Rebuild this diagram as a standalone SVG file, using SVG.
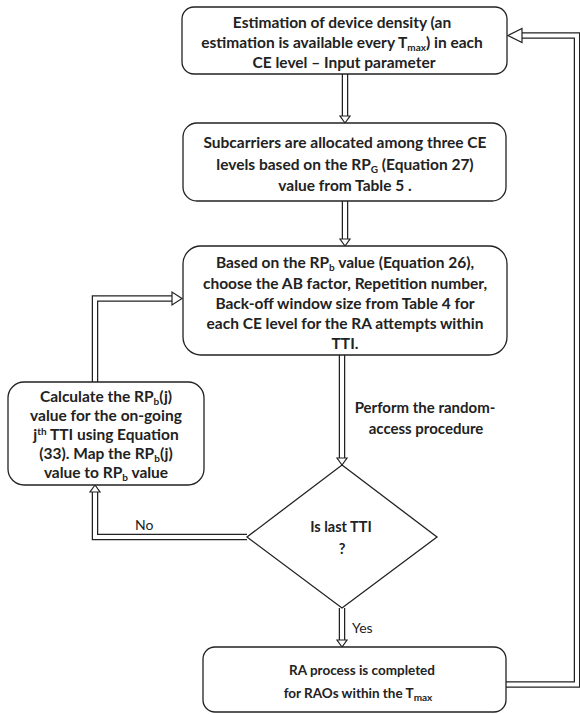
<svg xmlns="http://www.w3.org/2000/svg" width="580" height="714" viewBox="0 0 580 714">
<style>
.box{fill:#fff;stroke:#222;stroke-width:1.3}
.t{font-family:Lato,"Open Sans","DejaVu Sans",sans-serif;font-weight:bold;font-size:15.5px;fill:#222;text-anchor:middle}
.s{font-size:13.5px}
.m{font-size:14.5px}
.l{font-family:Lato,"Open Sans","DejaVu Sans",sans-serif;font-size:14px;fill:#222}
.outer{fill:none;stroke:#222;stroke-width:6.5}
.inner{fill:none;stroke:#fff;stroke-width:4}
.head{fill:#fff;stroke:#222;stroke-width:1.2;stroke-linejoin:miter}
.sub{font-size:10px}
</style>
<g id="connectors">
  <path class="outer" d="M506,684.5 H577 V35.5 H520"/>
  <path class="inner" d="M506,684.5 H577 V35.5 H519"/>
  <polygon class="head" points="508,35.5 522,28.5 522,42.5"/>
  <path class="outer" d="M345,74 V116"/>
  <path class="inner" d="M345,73 V117"/>
  <polygon class="head" points="345,123 340,116 350,116"/>
  <path class="outer" d="M345,201 V239"/>
  <path class="inner" d="M345,200 V240"/>
  <polygon class="head" points="345,246 340,239 350,239"/>
  <path class="outer" d="M342,355 V458"/>
  <path class="inner" d="M342,354 V459"/>
  <polygon class="head" points="342,465 337,458 347,458"/>
  <path class="outer" d="M342,608 V640"/>
  <path class="inner" d="M342,607 V641"/>
  <polygon class="head" points="342,647 337,640 347,640"/>
  <path class="outer" d="M247,537 H95 V492"/>
  <path class="inner" d="M248,537 H95 V491"/>
  <polygon class="head" points="95,485 90,492 100,492"/>
  <path class="outer" d="M95,382 V298.5 H172"/>
  <path class="inner" d="M95,383 V298.5 H173"/>
  <polygon class="head" points="182,298.5 172,292 172,305"/>
  <text class="l" x="135" y="530">No</text>
  <text class="l" x="352" y="633">Yes</text>
  <text class="t" x="425" y="413" style="font-size:15px">Perform the random-</text>
  <text class="t" x="426" y="434" style="font-size:15px">access procedure</text>
</g>
<g id="n1">
  <rect class="box" x="182" y="7" width="325" height="67" rx="12"/>
  <text class="t" x="342" y="28">Estimation of device density (an</text>
  <text class="t" x="342" y="48">estimation is available every T<tspan class="sub" dy="3">max</tspan><tspan dy="-3">) in each</tspan></text>
  <text class="t" x="344" y="68">CE level – Input  parameter</text>
</g>
<g id="n2">
  <rect class="box" x="183" y="123" width="323" height="78" rx="14"/>
  <text class="t" x="345" y="148">Subcarriers are allocated among three  CE</text>
  <text class="t" x="345" y="170">levels based on the RP<tspan class="sub" dy="3">G</tspan><tspan dy="-3"> (Equation 27)</tspan></text>
  <text class="t" x="345" y="191">value  from Table 5 .</text>
</g>
<g id="n3">
  <rect class="box" x="183" y="246" width="324" height="109" rx="18"/>
  <text class="t" x="345" y="268">Based on the RP<tspan class="sub" dy="3">b</tspan><tspan dy="-3"> value (Equation 26),</tspan></text>
  <text class="t" x="345" y="289">choose the AB factor, Repetition number,</text>
  <text class="t" x="345" y="309">Back-off window size from Table 4 for</text>
  <text class="t" x="345" y="329">each CE level for the RA attempts within</text>
  <text class="t" x="345" y="349">TTI.</text>
</g>
<g id="n4">
  <rect class="box" x="8" y="382" width="196" height="103" rx="16"/>
  <text class="t" x="106" y="402">Calculate the RP<tspan class="sub" dy="3">b</tspan><tspan dy="-3">(j)</tspan></text>
  <text class="t" x="106" y="421">value for the on-going</text>
  <text class="t" x="106" y="440">j<tspan class="sub" dy="-5">th</tspan><tspan dy="5"> TTI using Equation</tspan></text>
  <text class="t" x="106" y="459">(33). Map the  RP<tspan class="sub" dy="3">b</tspan><tspan dy="-3">(j)</tspan></text>
  <text class="t" x="106" y="478">value to RP<tspan class="sub" dy="3">b</tspan><tspan dy="-3"> value</tspan></text>
</g>
<g id="n5">
  <polygon class="box" points="342,465 437,537 342,608 247,537"/>
  <text class="t m" x="341" y="532">Is last TTI</text>
  <text class="t m" x="342" y="554">?</text>
</g>
<g id="n6">
  <rect class="box" x="203" y="647" width="303" height="65" rx="12"/>
  <text class="t s" x="362" y="675">RA process is completed</text>
  <text class="t s" x="358" y="698">for RAOs within the T<tspan class="sub" dy="3">max</tspan></text>
</g>
</svg>
